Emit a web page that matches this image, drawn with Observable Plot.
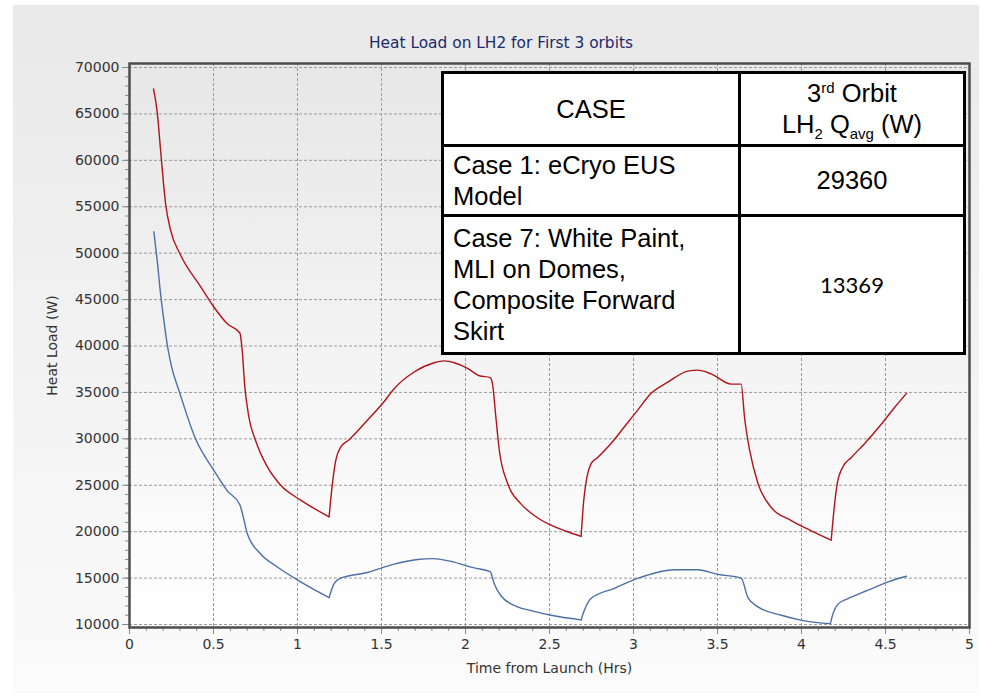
<!DOCTYPE html>
<html>
<head>
<meta charset="utf-8">
<script src="https://cdn.jsdelivr.net/npm/d3@7"></script>
<script src="https://cdn.jsdelivr.net/npm/@observablehq/plot@0.6"></script>
<style>
  html, body { margin: 0; padding: 0; background: #ffffff; }
  #wrap { position: relative; width: 986px; height: 696px; overflow: hidden; }
  #panel { position: absolute; left: 13px; top: 5px; width: 966px; height: 688px;
           background: linear-gradient(#e9e9e9, #fbfbfb); }
  #plotbg { position: absolute; left: 129px; top: 63px; width: 840px; height: 564px;
            background: linear-gradient(#e7e7e7, #ffffff); }
  #chart { position: absolute; left: 0; top: 0; }
  #title { position: absolute; left: 251px; top: 34px; width: 500px; text-align: center;
           font-family: "DejaVu Sans", Verdana, sans-serif; font-size: 15.4px; color: #1b2a6b; }
  #tbl { position: absolute; left: 441px; top: 71px; width: 522px; border-collapse: collapse;
         table-layout: fixed; background: #ffffff; color: #000;
         font-family: "Liberation Sans", Arial, sans-serif; font-size: 25.5px; line-height: 31px; }
  #tbl td { border: 3px solid #000; padding: 0 9px; vertical-align: middle; }
  #tbl td.c { text-align: center; }
  #tbl sup, #tbl sub { font-size: 15px; line-height: 0; }
  #tbl .num2 { font-family: Lato, "Open Sans", sans-serif; font-size: 22px; }
</style>
</head>
<body>
<div id="wrap">
  <div id="panel"></div>
  <div id="plotbg"></div>
  <div id="chart"></div>
  <div id="title"></div>
  <table id="tbl">
    <colgroup><col style="width:297px"><col style="width:225px"></colgroup>
    <tr style="height:73px"><td class="c" id="hCase"></td><td class="c" id="hVal"></td></tr>
    <tr style="height:70px"><td id="r1a"></td><td class="c" id="r1b"></td></tr>
    <tr style="height:138px"><td id="r2a"></td><td class="c num2" id="r2b"></td></tr>
  </table>
</div>
<script>
// ---- data ----
const chartTitle = "Heat Load on LH2 for First 3 orbits";
const xLabel = "Time from Launch (Hrs)";
const yLabel = "Heat Load (W)";

const xTicks = [0, 0.5, 1, 1.5, 2, 2.5, 3, 3.5, 4, 4.5, 5];
const yTicks = [10000, 15000, 20000, 25000, 30000, 35000, 40000, 45000, 50000, 55000, 60000, 65000, 70000];

const caseHeader = "CASE";
const caseNames = ["Case 1: eCryo EUS<br>Model", "Case 7: White Paint,<br>MLI on Domes,<br>Composite Forward<br>Skirt"];
const caseQavg = [29360, 13369];

// Case 1 (red)
const case1Time = [0.143,0.165,0.185,0.215,0.244,0.304,0.423,0.502,0.582,0.657,0.671,0.685,0.711,0.751,0.820,0.900,1.019,1.188,1.208,1.228,1.257,1.307,1.416,1.506,1.575,1.694,1.813,1.873,1.933,2.012,2.082,2.147,2.161,2.181,2.201,2.251,2.330,2.409,2.509,2.600,2.688,2.704,2.723,2.747,2.787,2.866,2.946,3.025,3.105,3.204,3.323,3.383,3.462,3.582,3.641,3.661,3.691,3.741,3.820,3.939,4.058,4.177,4.193,4.213,4.247,4.297,4.376,4.476,4.555,4.625];
const case1Load = [67700,65200,61100,55300,52500,49800,46400,44200,42400,41400,39500,35900,32300,29800,27000,25000,23400,21600,25200,27700,29100,29900,32000,33800,35400,37200,38200,38400,38200,37600,36800,36600,35900,32300,28800,25200,23000,21750,20700,20050,19500,23400,25900,27300,28000,29500,31300,33100,34900,36100,37300,37400,37000,35900,35900,32300,28800,25200,22600,21200,20100,19100,22300,25200,27000,28000,29500,31600,33400,34900];

// Case 7 (blue)
const case7Time = [0.145,0.165,0.185,0.205,0.226,0.250,0.298,0.393,0.502,0.582,0.657,0.677,0.701,0.781,0.880,1.019,1.188,1.218,1.257,1.416,1.575,1.714,1.804,1.913,2.052,2.147,2.171,2.211,2.310,2.390,2.509,2.688,2.707,2.747,2.886,3.045,3.244,3.383,3.502,3.641,3.681,3.741,3.880,4.018,4.172,4.188,4.217,4.277,4.396,4.515,4.625];
const case7Load = [52300,49200,45600,42700,40000,37800,35000,30000,26600,24400,22900,21600,19800,17600,16200,14600,12900,14400,15000,15600,16500,17000,17100,16800,16100,15700,14400,13100,11900,11500,11000,10500,11500,12800,13900,15100,15900,15900,15400,15000,12900,11900,11000,10400,10100,11200,12200,12800,13700,14600,15200];

// ---- build tables for the library ----
// split each curve at its sharp V-shaped minima so the smooth curve keeps those corners
function toSegments(times, loads) {
  const rows = [];
  let seg = 0;
  for (let i = 0; i < times.length; i++) {
    rows.push({t: times[i], q: loads[i], seg});
    const isMin = i > 0 && i < times.length - 1 && loads[i] < loads[i - 1] && loads[i] < loads[i + 1];
    if (isMin) { seg++; rows.push({t: times[i], q: loads[i], seg}); }
  }
  return rows;
}
const case1 = toSegments(case1Time, case1Load);
const case7 = toSegments(case7Time, case7Load);
const xMinor = d3.range(0, 5.0001, 0.1).map(v => +v.toFixed(1));
const yMinor = d3.range(10000, 70001, 1000);

const font = "DejaVu Sans, Verdana, sans-serif";

const chart = Plot.plot({
  width: 986,
  height: 696,
  marginLeft: 129,
  marginRight: 17,
  marginTop: 63,
  marginBottom: 69,
  style: {background: "transparent", fontFamily: font, fontSize: "14px", color: "#333"},
  x: {domain: [0, 5]},
  y: {domain: [9680, 70430]},
  marks: [
    Plot.gridX(xTicks, {stroke: "#9a9a9a", strokeOpacity: 1, strokeDasharray: "3,2"}),
    Plot.gridY(yTicks, {stroke: "#9a9a9a", strokeOpacity: 1, strokeDasharray: "3,2"}),
    Plot.axisX(xMinor, {anchor: "bottom", tickSize: 4, tickFormat: () => "", stroke: "#8a8a8a", label: null}),
    Plot.axisY(yMinor, {anchor: "left", tickSize: 4, tickFormat: () => "", stroke: "#8a8a8a", label: null}),
    Plot.axisX(xTicks, {anchor: "bottom", tickSize: 7, tickPadding: 5, stroke: "#8a8a8a", fill: "#333",
      fontSize: 14, tickFormat: d => String(d),
      label: xLabel, labelAnchor: "center", labelOffset: 45, labelArrow: false}),
    Plot.axisY(yTicks, {anchor: "left", tickSize: 7, tickPadding: 3, stroke: "#8a8a8a", fill: "#333",
      fontSize: 14, tickFormat: d => String(d),
      label: yLabel, labelAnchor: "center", labelOffset: 82, labelArrow: false}),
    Plot.line(case1, {x: "t", y: "q", z: "seg", stroke: "#b0131a", strokeWidth: 1.4, curve: "monotone-x"}),
    Plot.line(case7, {x: "t", y: "q", z: "seg", stroke: "#4c6fa6", strokeWidth: 1.4, curve: "monotone-x"}),
    Plot.frame({stroke: "#4d4d4d", strokeWidth: 2.5})
  ]
});
document.getElementById("chart").appendChild(chart);

document.getElementById("title").textContent = chartTitle;
document.getElementById("hCase").textContent = caseHeader;
document.getElementById("hVal").innerHTML = "3<sup>rd</sup> Orbit<br>LH<sub>2</sub> Q<sub>avg</sub> (W)";
document.getElementById("r1a").innerHTML = caseNames[0];
document.getElementById("r1b").textContent = String(caseQavg[0]);
document.getElementById("r2a").innerHTML = caseNames[1];
document.getElementById("r2b").textContent = String(caseQavg[1]);
</script>
</body>
</html>
